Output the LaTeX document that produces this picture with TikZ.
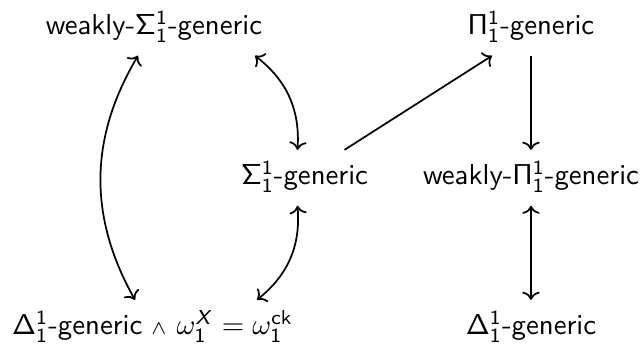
\documentclass[tikz,border=0pt]{standalone}
\usetikzlibrary{calc,arrows.meta}
\DeclareMathAlphabet{\mathsfit}{OT1}{cmss}{m}{sl}
\newcommand{\oneone}{^{\mathsf{1}}_{\mathsf{1}}}
\begin{document}
\begin{tikzpicture}[x=0.3472pt,y=-0.3472pt,
  lbl/.style={font=\sffamily, anchor=base, text height=8pt, text depth=3pt, inner sep=4pt},
  arr/.style={line width=0.6pt, >={To[length=2.8pt,width=6pt]}}]
\useasboundingbox (0,0) rectangle (644,346);
\node[lbl] (wS) at (154,35) {weakly-$\mathsf{\Sigma}\oneone$-generic};
\node[lbl] (P) at (531,35) {$\mathsf{\Pi}\oneone$-generic};
\node[lbl] (S) at (304.5,185) {$\mathsf{\Sigma}\oneone$-generic};
\node[lbl] (wP) at (531,185) {weakly-$\mathsf{\Pi}\oneone$-generic};
\node[lbl] (Dx) at (152.5,335) {$\mathsf{\Delta}\oneone$-generic\hspace{3pt}$\scriptstyle\wedge$\hspace{3.5pt}$\omega_{\mathsf{1}}^{\mathsfit{X}} = \omega_{\mathsf{1}}^{\mathsf{ck}}$};
\node[lbl] (D) at (531,335) {$\mathsf{\Delta}\oneone$-generic};
\draw[arr,<->] ($(wS.south)+(-16,0)$) to[bend right=30] ($(Dx.north)+(-17.5,0)$);
\draw[arr,<->] ($(wS.south)+(101,0)$) to[bend left=28] ($(S.north)+(-7,0)$);
\draw[arr,<->] ($(S.south)+(-7,0)$) to[bend left=28] ($(Dx.north)+(104.5,0)$);
\draw[arr,->] ($(S.north)+(40,0)$) -- ($(P.south)+(-39,0)$);
\draw[arr,->] (P.south) -- (wP.north);
\draw[arr,<->] (wP.south) -- (D.north);
\end{tikzpicture}
\end{document}
